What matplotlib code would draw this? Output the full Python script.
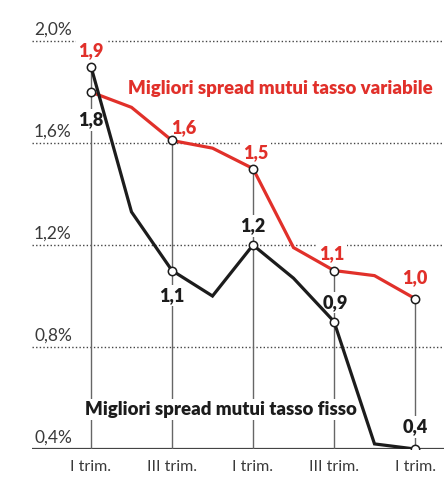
import matplotlib.pyplot as plt

# quarters / half-quarter steps
x_pos = [0, 1, 2, 3, 4, 5, 6, 7, 8]
tick_pos = [0, 2, 4, 6, 8]
tick_labels = ['I trim.', 'III trim.', 'I trim.', 'III trim.', 'I trim.']

variabile = [1.80, 1.74, 1.61, 1.58, 1.50, 1.19, 1.10, 1.08, 0.99]
fisso = [1.90, 1.33, 1.10, 1.00, 1.20, 1.07, 0.90, 0.42, 0.40]

variabile_labels = ['1,8', '1,6', '1,5', '1,1', '1,0']
fisso_labels = ['1,9', '1,1', '1,2', '0,9', '0,4']

y_ticks = [0.4, 0.8, 1.2, 1.6, 2.0]
y_tick_labels = ['0,4%', '0,8%', '1,2%', '1,6%', '2,0%']

RED = '#e1302a'
BLACK = '#1c1c1c'
GREY = '#666666'
BOLD = ['Lato', 'DejaVu Sans']

fig = plt.figure(figsize=(4.44, 4.86), dpi=100)
ax = fig.add_axes([0.072, 0.0761, 0.928, 0.9239])
ax.set_xlim(-1.457, 8.716)
ax.set_ylim(0.4, 2.161)
for s in ax.spines.values():
    s.set_visible(False)

# gridlines
for v in y_ticks[1:]:
    ax.axhline(v, color='#444444', lw=1, ls=(0, (1, 1.6)), zorder=0)
ax.axhline(0.4, color='#444444', lw=1.6, zorder=0)
for v, t in zip(y_ticks, y_tick_labels):
    ax.annotate(t, (0.005, v), xycoords=ax.get_yaxis_transform(),
                xytext=(0, 3), textcoords='offset pixels',
                ha='left', va='bottom', fontsize=12.5, color='#3a3a3a',
                family=BOLD)

ax.set_yticks([])
ax.set_xticks(tick_pos)
ax.set_xticklabels(tick_labels, fontsize=11.5, color='#3a3a3a', family=BOLD)
ax.tick_params(axis='x', length=0, pad=8)

# vertical drop lines
for i in tick_pos:
    top = max(variabile[i], fisso[i])
    ax.vlines(i, 0.4, top, color=GREY, lw=1, zorder=1)

ax.plot(x_pos, variabile, color=RED, lw=2.3, zorder=3, solid_joinstyle='miter')
ax.plot(x_pos, fisso, color=BLACK, lw=2.3, zorder=3, solid_joinstyle='miter')
mx = tick_pos
ax.plot(mx, [variabile[i] for i in mx], 'o', ms=6, mfc='white', mec=BLACK, mew=1.1, zorder=4)
ax.plot(mx, [fisso[i] for i in mx], 'o', ms=6, mfc='white', mec=BLACK, mew=1.1, zorder=4)

box = dict(facecolor='white', edgecolor='none', pad=1.5)

def label(txt, x, y, dx, dy, color):
    ax.annotate(txt, (x, y), xytext=(dx, dy), textcoords='offset pixels',
                ha='center', va='center', fontsize=13, fontweight='heavy',
                color=color, family=BOLD, bbox=box, zorder=2)

var_off = [(0, -28), (12, 13), (3, 16), (-2, 17), (0, 21)]
fix_off = [(0, 16), (0, -25), (0, 19), (1, 19), (0, 22)]
# the first pair of labels is coloured the other way round in the original
var_col = [BLACK, RED, RED, RED, RED]
fix_col = [RED, BLACK, BLACK, BLACK, BLACK]
for k, i in enumerate(tick_pos):
    label(variabile_labels[k], i, variabile[i], *var_off[k], var_col[k])
    label(fisso_labels[k], i, fisso[i], *fix_off[k], fix_col[k])

ax.text(0.92, 1.815, 'Migliori spread mutui tasso variabile', color=RED,
        fontsize=13.4, fontweight='heavy', family=BOLD, ha='left', va='center', zorder=2)
ax.text(-0.15, 0.555, 'Migliori spread mutui tasso fisso', color=BLACK,
        fontsize=13.4, fontweight='heavy', family=BOLD, ha='left', va='center',
        bbox=box, zorder=2)

plt.savefig('out.png', dpi=100)
